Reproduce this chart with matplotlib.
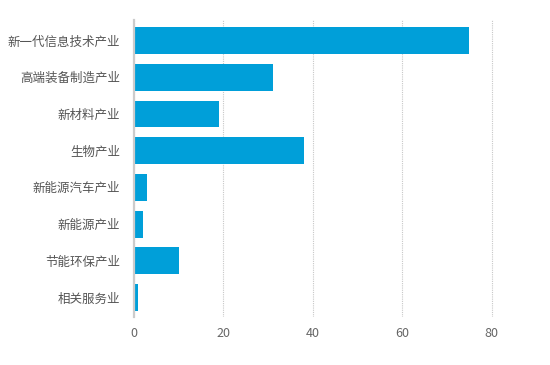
import matplotlib
matplotlib.use('Agg')
import matplotlib.pyplot as plt

plt.rcParams['font.family'] = ['Noto Sans CJK SC', 'DejaVu Sans']

# 产业分类与数值
categories = ['新一代信息技术产业', '高端装备制造产业', '新材料产业', '生物产业',
              '新能源汽车产业', '新能源产业', '节能环保产业', '相关服务业']
values = [75, 31, 19, 38, 3, 2, 10, 1]
xticks = [0, 20, 40, 60, 80]

fig = plt.figure(figsize=(5.5, 3.65), dpi=100)
ax = fig.add_axes([0.2436, 0.1315, 0.7154, 0.8137])

ax.barh(categories, values, height=0.73, color='#009fd9', zorder=3)
ax.set_ylim(len(categories) - 0.47, -0.56)
ax.set_xlim(0, 88)
ax.set_xticks(xticks)

# 网格与坐标轴
ax.grid(axis='x', linestyle=(0, (1, 1)), color='#c8c8c8', linewidth=0.8, zorder=0)
for side in ['top', 'right', 'bottom']:
    ax.spines[side].set_visible(False)
ax.spines['left'].set_color('#cccccc')
ax.spines['left'].set_linewidth(1.6)
ax.spines['left'].set_zorder(4)

ax.tick_params(axis='y', length=0, pad=10, labelsize=9, labelcolor='#555555')
ax.tick_params(axis='x', length=0, pad=7, labelsize=9, labelcolor='#666666')

fig.savefig('out.png', dpi=100)
